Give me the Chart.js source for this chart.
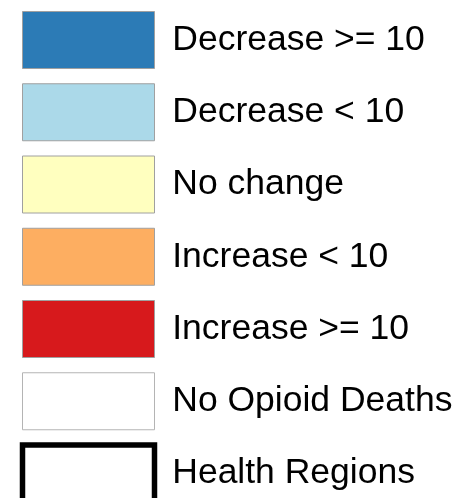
<!DOCTYPE html>
<html>
<head>
<meta charset="utf-8">
<script src="https://cdn.jsdelivr.net/npm/chart.js@4"></script>
<style>
  html, body { margin: 0; padding: 0; background: #fff; overflow: hidden; }
  #legendChart { position: absolute; left: 0; top: -4px; }
</style>
</head>
<body>
<canvas id="legendChart" width="458" height="560"></canvas>
<script>
  const categories = ["Decrease >= 10", "Decrease < 10", "No change", "Increase < 10", "Increase >= 10", "No Opioid Deaths", "Health Regions"];
  const fillColors = ["#2c7bb6", "#abd9e9", "#ffffbf", "#fdae61", "#d7191c", "#ffffff", "#ffffff"];
  const borderColors = ["#a0a0a0", "#a0a0a0", "#a0a0a0", "#a0a0a0", "#a0a0a0", "#b4b4b4", "#000000"];
  const borderWidths = [1, 1, 1, 1, 1, 1, 5.5];

  const datasets = categories.map((label, i) => ({
    label,
    data: [],
    backgroundColor: fillColors[i],
    borderColor: borderColors[i],
    borderWidth: borderWidths[i],
    borderJoinStyle: i === categories.length - 1 ? "round" : "miter",
  }));

  new Chart(document.querySelector("#legendChart"), {
    type: "bar",
    data: { labels: [], datasets },
    options: {
      responsive: false,
      animation: false,
      devicePixelRatio: 1,
      layout: { padding: { left: 7.25, top: 0.25 } },
      scales: { x: { display: false }, y: { display: false } },
      plugins: {
        tooltip: { enabled: false },
        legend: {
          position: "top",
          align: "start",
          maxHeight: 600,
          labels: {
            boxWidth: 132,
            boxHeight: 57,
            padding: 15.25,
            color: "#000",
            font: { family: "'Liberation Sans', Arial, sans-serif", size: 35.5 },
          },
        },
      },
    },
  });
</script>
</body>
</html>
